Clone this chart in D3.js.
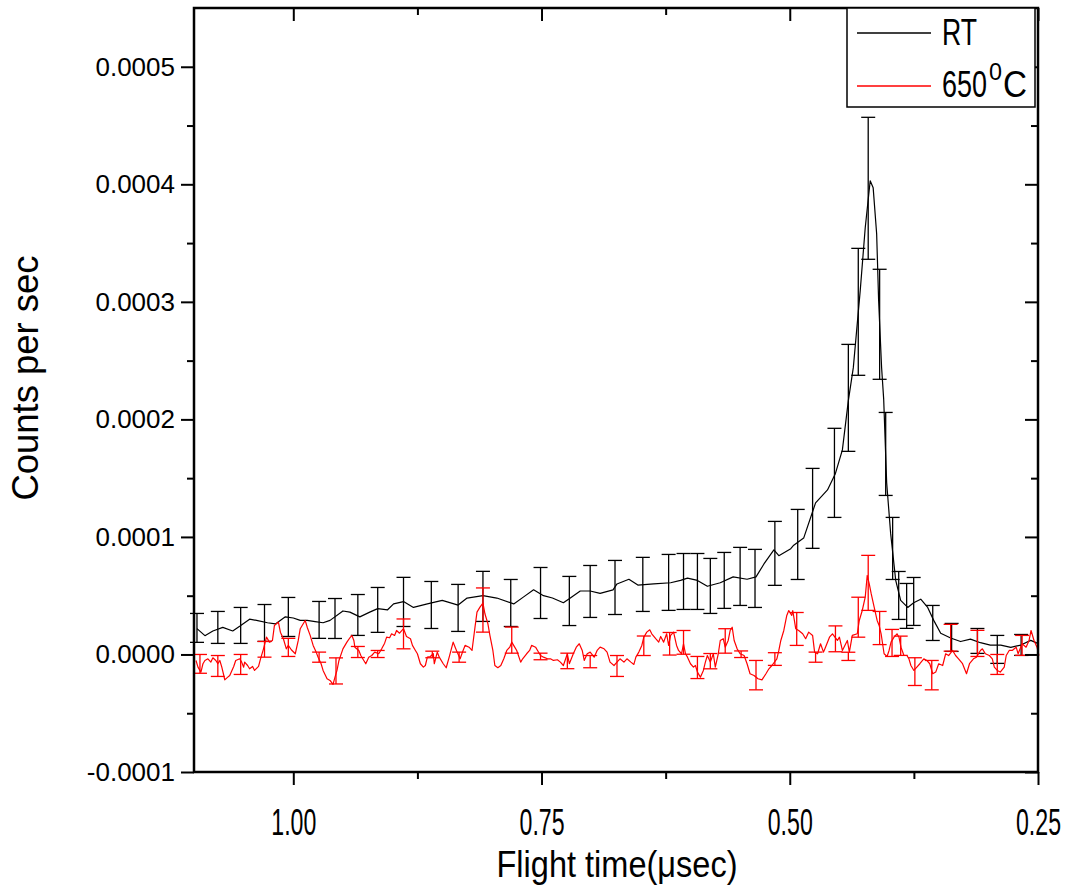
<!DOCTYPE html>
<html>
<head>
<meta charset="utf-8">
<script src="https://cdn.jsdelivr.net/npm/d3@7"></script>
<style>
  body { margin: 0; background: #fff; }
  svg { display: block; font-family: "Liberation Sans", Arial, Helvetica, sans-serif; }
</style>
</head>
<body>
<svg id="chart" width="1070" height="888"></svg>
<script>
// counts are given in units of 1e-5 counts per sec
const UNIT = 1e-5

// RT curve
const rtTime = [1.097,1.089,1.081,1.071,1.061,1.054,1.044,1.037,1.026,1.018,
  1.008,1.000,0.993,0.986,0.978,0.970,0.963,0.950,0.943,0.933,
  0.923,0.915,0.905,0.899,0.889,0.879,0.865,0.850,0.834,0.825,
  0.809,0.795,0.778,0.768,0.758,0.748,0.739,0.728,0.721,0.711,
  0.701,0.691,0.678,0.674,0.662,0.653,0.637,0.620,0.610,0.603,
  0.593,0.583,0.570,0.557,0.543,0.534,0.526,0.516,0.511,0.499,
  0.496,0.486,0.474,0.462,0.454,0.447,0.441,0.436,0.429,0.424,
  0.419,0.416,0.4125,0.4105,0.4075,0.4054,0.4024,0.3984,0.3933,0.3883,
  0.3812,0.3752,0.3681,0.3611,0.355,0.348,0.338,0.328,0.318,0.308,
  0.298,0.2875,0.2774,0.2673,0.2573,0.2492]
const rtCounts = [2.2,1.6,2.0,2.3,2.0,2.4,3.0,2.9,2.7,2.6,
  3.2,3.1,2.9,2.9,2.8,2.7,2.9,3.7,3.6,3.2,
  3.6,3.9,3.8,4.3,4.5,4.0,4.3,4.6,4.2,4.8,
  5.0,4.8,4.3,4.9,5.5,5.0,4.8,4.4,4.8,5.4,
  5.4,5.2,5.5,6.0,6.4,5.9,6.0,6.1,6.3,6.5,
  6.3,5.8,6.1,6.6,6.4,6.6,7.7,8.9,8.4,9.0,
  9.3,9.9,12.9,14.0,15.4,17.4,21.6,24.4,31.0,36.3,
  40.3,39.7,35.8,30.1,24.4,21.7,14.6,10.3,6.3,4.6,
  4.0,4.4,4.7,4.0,2.9,1.8,1.4,1.1,1.3,1.0,
  0.8,0.8,0.6,0.8,1.2,0.9]

// RT error bars
const rtErrTime = [1.097,1.076,1.053,1.029,1.005,0.974,0.958,0.935,0.915,0.889,
  0.861,0.834,0.809,0.781,0.751,0.722,0.701,0.676,0.648,0.622,
  0.607,0.593,0.580,0.566,0.550,0.535,0.515,0.492,0.477,0.455,
  0.441,0.431,0.421,0.4095,0.4034,0.3964,0.3903,0.3823,0.3752,0.356,
  0.337,0.311,0.291,0.267]
const rtErrMid = [2.26,2.30,2.47,2.68,3.19,2.94,3.06,3.36,3.79,4.47,
  4.21,3.96,4.94,4.38,5.23,4.55,5.36,5.70,5.96,6.13,
  6.21,6.21,5.83,6.30,6.64,6.47,8.60,9.36,12.43,15.45,
  21.83,29.15,39.66,28.09,17.06,9.02,5.02,4.13,4.51,2.68,
  1.45,1.15,0.43,0.81]
const rtErr = [1.23,1.36,1.53,1.57,1.66,1.57,1.70,1.74,1.91,2.09,
  2.0,2.0,2.13,2.0,2.17,2.09,2.21,2.30,2.30,2.38,
  2.38,2.38,2.34,2.38,2.47,2.47,2.72,2.98,3.40,3.79,
  4.55,5.40,6.04,4.68,3.53,2.64,2.04,1.91,2.04,1.49,
  1.19,1.06,1.19,0.89]

// 650 C curve
const hotTime = [1.098,1.096,1.093,1.091,1.089,1.086,1.083,1.081,1.078,1.076,
  1.074,1.072,1.070,1.069,1.066,1.064,1.060,1.058,1.054,1.052,
  1.050,1.049,1.046,1.044,1.041,1.039,1.035,1.033,1.030,1.027,
  1.024,1.021,1.019,1.015,1.013,1.010,1.007,1.005,1.002,0.998,
  0.995,0.993,0.990,0.988,0.986,0.983,0.980,0.977,0.975,0.972,
  0.970,0.966,0.963,0.960,0.958,0.956,0.954,0.950,0.946,0.943,
  0.941,0.939,0.938,0.934,0.932,0.929,0.927,0.924,0.921,0.918,
  0.914,0.911,0.908,0.906,0.903,0.901,0.898,0.896,0.893,0.889,
  0.886,0.882,0.880,0.877,0.875,0.872,0.869,0.867,0.865,0.862,
  0.859,0.858,0.855,0.853,0.849,0.846,0.843,0.839,0.837,0.835,
  0.832,0.829,0.827,0.823,0.820,0.817,0.815,0.812,0.809,0.807,
  0.804,0.802,0.799,0.797,0.794,0.791,0.788,0.785,0.782,0.780,
  0.777,0.775,0.771,0.769,0.765,0.762,0.760,0.756,0.754,0.751,
  0.748,0.744,0.741,0.738,0.734,0.731,0.728,0.724,0.722,0.718,
  0.715,0.712,0.709,0.707,0.704,0.701,0.697,0.694,0.691,0.687,
  0.684,0.681,0.677,0.674,0.671,0.667,0.664,0.660,0.657,0.655,
  0.652,0.649,0.647,0.644,0.641,0.639,0.635,0.632,0.630,0.627,
  0.624,0.622,0.620,0.617,0.614,0.612,0.609,0.607,0.605,0.603,
  0.600,0.597,0.595,0.593,0.590,0.587,0.585,0.583,0.580,0.577,
  0.575,0.572,0.570,0.567,0.565,0.562,0.560,0.558,0.556,0.553,
  0.550,0.546,0.543,0.540,0.536,0.532,0.528,0.524,0.521,0.518,
  0.513,0.511,0.509,0.506,0.503,0.501,0.498,0.497,0.494,0.491,
  0.487,0.484,0.481,0.477,0.475,0.472,0.469,0.466,0.464,0.460,
  0.457,0.452,0.450,0.447,0.442,0.440,0.437,0.432,0.430,0.427,
  0.424,0.422,0.420,0.418,0.415,0.412,0.410,0.408,0.405,0.402,
  0.400,0.398,0.395,0.392,0.390,0.388,0.385,0.382,0.380,0.378,
  0.375,0.372,0.369,0.365,0.362,0.359,0.356,0.353,0.350,0.346,
  0.343,0.340,0.336,0.333,0.330,0.326,0.322,0.319,0.315,0.312,
  0.308,0.306,0.303,0.299,0.296,0.294,0.291,0.288,0.284,0.282,
  0.279,0.276,0.272,0.270,0.266,0.262,0.259,0.257,0.254,0.251,
  0.249]
const hotCounts = [-0.51,-1.08,-1.50,-0.79,-0.51,-0.37,-0.65,-0.28,-0.51,-0.79,
  -0.51,-1.08,-1.79,-2.16,-1.93,-1.79,-1.02,-0.51,-0.37,-0.65,
  -1.08,-0.65,-0.94,-1.22,-1.02,-1.36,-1.02,-0.37,0.48,1.47,
  1.05,1.19,2.47,2.75,1.90,1.34,0.48,0.77,0.40,0.06,
  1.19,2.19,2.61,2.89,2.32,1.62,0.77,0.20,-0.23,-0.79,
  -1.36,-2.07,-2.21,-2.55,-1.93,-1.36,-0.51,0.48,1.05,1.42,
  1.62,1.19,0.62,0.34,-0.09,-0.51,-0.79,-0.23,-0.09,0.20,
  0.06,0.48,0.96,1.47,1.42,1.76,1.62,2.04,1.81,2.19,
  1.53,1.34,0.77,0.34,0.06,-0.79,-1.08,-0.94,-0.23,-0.17,
  0.06,-0.79,0.20,-0.23,-0.79,-1.13,-0.23,1.05,0.62,0.20,
  -0.37,0.34,0.77,0.62,0.34,2.32,3.60,4.03,4.37,3.46,
  2.61,1.62,0.34,-0.94,-1.13,-0.94,-0.37,0.34,0.62,1.05,
  0.62,0.34,-0.65,-0.37,0.06,0.34,0.77,0.62,0.34,-0.09,
  -0.23,-0.37,-0.37,-0.51,-0.45,-0.65,-0.94,0.06,-0.79,0.06,
  0.62,0.91,0.34,-0.51,0.06,0.20,-0.23,0.34,0.62,0.48,
  0.20,-0.65,-0.94,-0.65,-0.37,-0.65,-0.37,-0.65,-0.85,-0.23,
  0.20,0.77,1.47,1.90,2.10,1.76,1.34,1.05,1.53,1.05,
  1.76,0.77,1.62,1.90,0.77,0.34,0.06,0.91,0.06,-0.23,
  -0.79,-1.08,-0.94,-1.50,-1.93,-1.36,-0.65,-0.09,-0.65,0.06,
  -1.08,0.06,1.19,1.34,0.62,1.19,2.04,2.32,1.19,0.48,
  0.06,-0.09,-0.79,-1.64,-1.79,-2.07,-2.16,-1.64,-1.22,-0.94,
  -0.37,0.34,1.19,2.04,3.32,3.74,3.32,3.74,2.19,2.04,
  1.76,1.34,1.90,1.62,0.20,0.06,0.91,0.20,0.62,1.47,
  1.76,1.19,1.47,0.34,1.19,0.20,1.62,1.76,2.89,3.74,
  4.88,6.72,6.02,5.17,4.03,2.89,2.47,1.76,0.06,-0.17,
  0.34,1.05,1.47,1.76,1.47,0.62,-0.09,-0.09,-0.37,-0.94,
  -1.36,-1.08,-0.79,-0.37,-0.51,-0.79,-1.64,-1.50,-0.79,-0.94,
  0.06,-0.09,0.34,-0.09,-0.37,-0.79,-1.64,-0.79,-0.37,-0.23,
  0.34,0.48,0.06,-0.09,-0.37,-1.08,-1.36,-1.50,-1.08,-0.09,
  0.34,0.34,0.62,0.06,0.91,0.62,1.19,2.04,1.19,0.62,
  -0.09]

// 650 C error bars
const hotErrTime = [1.094,1.076,1.053,1.029,1.005,0.974,0.957,0.935,0.915,0.889,
  0.860,0.833,0.809,0.780,0.751,0.724,0.701,0.674,0.647,0.621,
  0.607,0.593,0.580,0.565,0.549,0.534,0.515,0.493,0.474,0.454,
  0.441,0.431,0.421,0.4095,0.397,0.3883,0.374,0.357,0.338,0.311,
  0.291,0.266]
const hotErrMid = [-0.80,-0.98,-0.85,0.44,0.60,-0.23,-1.40,0.21,0.04,1.75,
  0.0,-0.23,3.78,1.22,-0.17,-0.55,-0.61,-0.98,0.74,0.91,
  1.03,-1.11,-0.57,1.15,0.02,-1.76,-0.39,2.17,-0.23,1.33,
  -0.16,3.17,6.09,2.25,0.98,0.74,-1.46,-1.76,1.42,0.94,
  -0.85,0.77]
const hotErr = [0.80,0.89,0.85,0.67,0.77,0.43,1.11,0.47,0.30,1.27,
  0.28,0.43,1.88,1.11,0.28,0.66,0.52,0.89,0.83,0.96,
  1.01,0.94,0.65,1.04,0.28,1.25,0.54,1.40,0.43,1.10,
  0.35,1.70,2.34,1.41,1.15,0.82,1.18,1.25,1.14,1.11,
  0.85,0.85]

// axes
const xTicks = [1.00, 0.75, 0.50, 0.25]
const xMinorTicks = [0.875, 0.625, 0.375]
const yTicks = [-0.0001, 0, 0.0001, 0.0002, 0.0003, 0.0004, 0.0005]
const yMinorTicks = [-0.00005, 0.00005, 0.00015, 0.00025, 0.00035, 0.00045]

const width = 1070, height = 888
const margin = {top: 8, right: 32, bottom: 116, left: 194}
const x0 = margin.left, x1 = width - margin.right
const y0 = height - margin.bottom, y1 = margin.top

const svg = d3.select('#chart')

const x = d3.scaleLinear().domain([1.10, 0.25]).range([x0, x1])
const y = d3.scaleLinear().domain([-0.0001, 0.00055]).range([y0, y1])

// plain hyphen for negative numbers, like the original
const locale = d3.formatLocale({decimal: '.', thousands: ',', grouping: [3], currency: ['', ''], minus: '-'})

const series = [
	{name: 'RT', color: '#000000',
		line: d3.zip(rtTime, rtCounts), bars: d3.zip(rtErrTime, rtErrMid, rtErr)},
	{name: '650', color: '#ff0000',
		line: d3.zip(hotTime, hotCounts), bars: d3.zip(hotErrTime, hotErrMid, hotErr)}
]

const line = d3.line()
	.x(d => x(d[0]))
	.y(d => y(d[1] * UNIT))

const CAP = 7

series.forEach(s => {
	const g = svg.append('g').attr('stroke', s.color).attr('fill', 'none')
	g.append('path')
		.datum(s.line)
		.attr('d', line)
		.attr('stroke-width', 1.2)
		.attr('stroke-linejoin', 'round')

	const bar = g.selectAll('g.bar').data(s.bars).join('g').attr('class', 'bar')
		.attr('stroke-width', 1.3)
	bar.append('line')
		.attr('x1', d => x(d[0])).attr('x2', d => x(d[0]))
		.attr('y1', d => y((d[1] + d[2]) * UNIT)).attr('y2', d => y((d[1] - d[2]) * UNIT))
	bar.append('line')
		.attr('x1', d => x(d[0]) - CAP).attr('x2', d => x(d[0]) + CAP)
		.attr('y1', d => y((d[1] + d[2]) * UNIT)).attr('y2', d => y((d[1] + d[2]) * UNIT))
	bar.append('line')
		.attr('x1', d => x(d[0]) - CAP).attr('x2', d => x(d[0]) + CAP)
		.attr('y1', d => y((d[1] - d[2]) * UNIT)).attr('y2', d => y((d[1] - d[2]) * UNIT))
})

// axes: outward ticks bottom/left, inward ticks top/right
function styleAxis(g) {
	g.select('.domain').remove()
	g.selectAll('.tick line').attr('stroke', '#000').attr('stroke-width', 2)
}

svg.append('g').attr('transform', `translate(0,${y0})`)
	.call(d3.axisBottom(x).tickValues(xTicks).tickSize(13).tickFormat(locale.format('.2f')))
	.call(styleAxis)
	.call(g => g.selectAll('.tick text')
		.attr('y', 63).attr('dy', null)
		.attr('font-size', 36).attr('fill', '#000')
		.attr('textLength', 45).attr('lengthAdjust', 'spacingAndGlyphs'))
svg.append('g').attr('transform', `translate(0,${y0})`)
	.call(d3.axisBottom(x).tickValues(xMinorTicks).tickSize(7).tickFormat(''))
	.call(styleAxis)

svg.append('g').attr('transform', `translate(0,${y1})`)
	.call(d3.axisTop(x).tickValues(xTicks).tickSize(-13).tickFormat(''))
	.call(styleAxis)
svg.append('g').attr('transform', `translate(0,${y1})`)
	.call(d3.axisTop(x).tickValues(xMinorTicks).tickSize(-7).tickFormat(''))
	.call(styleAxis)

svg.append('g').attr('transform', `translate(${x0},0)`)
	.call(d3.axisLeft(y).tickValues(yTicks).tickSize(13).tickPadding(6).tickFormat(locale.format('.4f')))
	.call(styleAxis)
	.call(g => g.selectAll('.tick text')
		.attr('font-size', 26).attr('fill', '#000'))
svg.append('g').attr('transform', `translate(${x0},0)`)
	.call(d3.axisLeft(y).tickValues(yMinorTicks).tickSize(7).tickFormat(''))
	.call(styleAxis)

svg.append('g').attr('transform', `translate(${x1},0)`)
	.call(d3.axisRight(y).tickValues(yTicks).tickSize(-13).tickFormat(''))
	.call(styleAxis)
svg.append('g').attr('transform', `translate(${x1},0)`)
	.call(d3.axisRight(y).tickValues(yMinorTicks).tickSize(-7).tickFormat(''))
	.call(styleAxis)

// frame
svg.append('rect')
	.attr('x', x0).attr('y', y1)
	.attr('width', x1 - x0).attr('height', y0 - y1)
	.attr('fill', 'none').attr('stroke', '#000').attr('stroke-width', 2.5)

// axis titles
svg.append('text')
	.attr('x', 617).attr('y', 877)
	.attr('text-anchor', 'middle')
	.attr('font-size', 36)
	.attr('textLength', 241).attr('lengthAdjust', 'spacingAndGlyphs')
	.text('Flight time(μsec)')

svg.append('text')
	.attr('transform', 'translate(38,378) rotate(-90)')
	.attr('text-anchor', 'middle')
	.attr('font-size', 36)
	.attr('textLength', 245).attr('lengthAdjust', 'spacingAndGlyphs')
	.text('Counts per sec')

// legend
const legend = svg.append('g')
legend.append('rect')
	.attr('x', 847).attr('y', 8).attr('width', 188).attr('height', 99)
	.attr('fill', '#fff').attr('stroke', '#000').attr('stroke-width', 1.5)

legend.selectAll('line.key').data(series).join('line').attr('class', 'key')
	.attr('x1', 857).attr('x2', 931)
	.attr('y1', (d, i) => 33 + i * 53).attr('y2', (d, i) => 33 + i * 53)
	.attr('stroke', d => d.color).attr('stroke-width', 1.3)

legend.append('text')
	.attr('x', 942).attr('y', 45)
	.attr('font-size', 37)
	.attr('textLength', 35).attr('lengthAdjust', 'spacingAndGlyphs')
	.text('RT')

const hotLabel = legend.append('text').attr('font-size', 37)
hotLabel.append('tspan')
	.attr('x', 942).attr('y', 97)
	.attr('textLength', 45).attr('lengthAdjust', 'spacingAndGlyphs')
	.text('650')
hotLabel.append('tspan')
	.attr('x', 989).attr('y', 80).attr('font-size', 24)
	.attr('textLength', 13).attr('lengthAdjust', 'spacingAndGlyphs')
	.text('0')
hotLabel.append('tspan')
	.attr('x', 1003).attr('y', 97)
	.attr('textLength', 24).attr('lengthAdjust', 'spacingAndGlyphs')
	.text('C')
</script>
</body>
</html>
